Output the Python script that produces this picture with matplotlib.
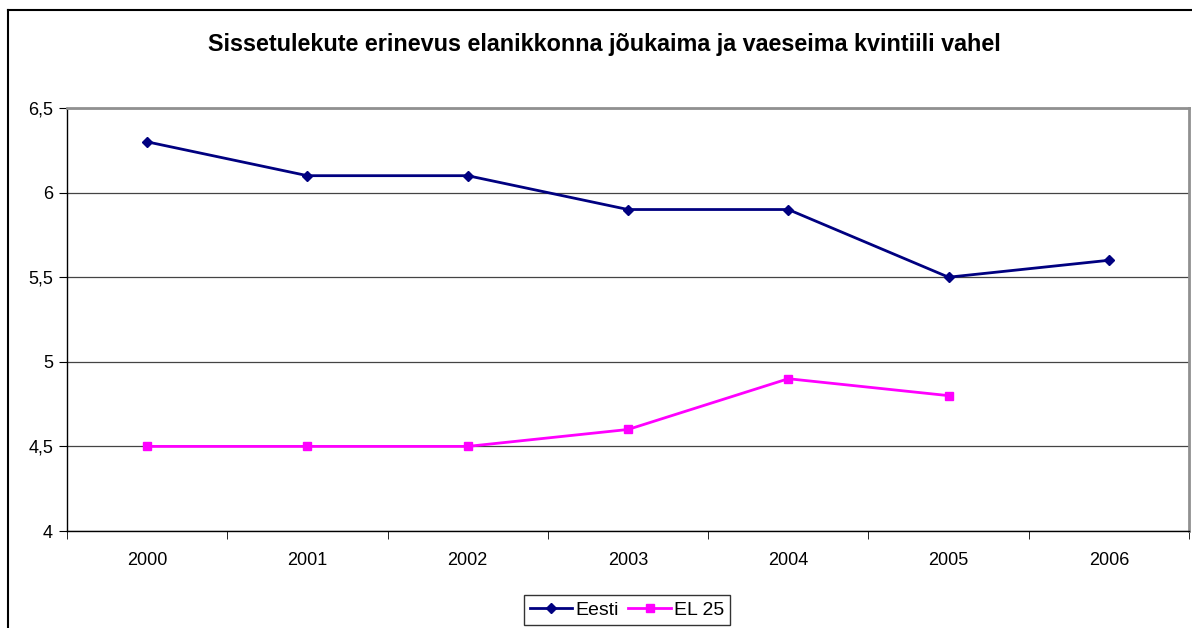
import numpy as np
import matplotlib.pyplot as plt
from matplotlib.lines import Line2D

plt.rcParams['font.family'] = ['Liberation Sans', 'DejaVu Sans']

years = ['2000', '2001', '2002', '2003', '2004', '2005', '2006']
eesti = [6.3, 6.1, 6.1, 5.9, 5.9, 5.5, 5.6]
el25 = [4.5, 4.5, 4.5, 4.6, 4.9, 4.8, np.nan]
yticks = [4, 4.5, 5, 5.5, 6, 6.5]
ytick_labels = ['4', '4,5', '5', '5,5', '6', '6,5']

W, H = 1192, 628
fig = plt.figure(figsize=(W / 100, H / 100), dpi=100)
ax = fig.add_axes([67 / W, 1 - 531 / H, (1189 - 67) / W, (531 - 108) / H])

x = np.arange(len(years))
ax.plot(x, eesti, color='#000080', lw=2, marker='D', ms=5, label='Eesti')
ax.plot(x, el25, color='#FF00FF', lw=2, marker='s', ms=5.5, label='EL 25')

ax.set_xlim(-0.5, len(years) - 0.5)
ax.set_ylim(4, 6.5)
ax.set_yticks(yticks)
ax.set_yticklabels(ytick_labels, fontsize=13)
ax.set_xticks(x)
ax.set_xticklabels(years, fontsize=13)
ax.set_xticks(np.arange(-0.5, len(years)), minor=True)
ax.tick_params(axis='x', which='major', length=0, pad=15)
ax.tick_params(axis='x', which='minor', length=6, color='black')
ax.tick_params(axis='y', length=6, color='black', pad=4)
ax.grid(axis='y', color='#444444', lw=0.9)
ax.set_axisbelow(True)
for s in ['top', 'right']:
    ax.spines[s].set_color('#909090')
    ax.spines[s].set_linewidth(2)
for s in ['left', 'bottom']:
    ax.spines[s].set_color('black')
    ax.spines[s].set_linewidth(1)

fig.text(604 / W, 1 - 45 / H, 'Sissetulekute erinevus elanikkonna jõukaima ja vaeseima kvintiili vahel',
         ha='center', va='center', fontsize=16.8, fontweight='bold')

leg = fig.legend(loc='center', bbox_to_anchor=(627 / W, 1 - 610 / H), ncol=2, fontsize=14,
                 frameon=True, fancybox=False, edgecolor='black', handlelength=2.2,
                 handletextpad=0.15, columnspacing=0.5, borderpad=0.3, borderaxespad=0)
leg.get_frame().set_linewidth(1)

# outer chart frame
fig.add_artist(Line2D([8 / W, 8 / W], [0, 1 - 10 / H], color='black', lw=1.5, transform=fig.transFigure))
fig.add_artist(Line2D([8 / W, 1], [1 - 10 / H, 1 - 10 / H], color='black', lw=1.5, transform=fig.transFigure))

fig.savefig('out.png', dpi=100)
